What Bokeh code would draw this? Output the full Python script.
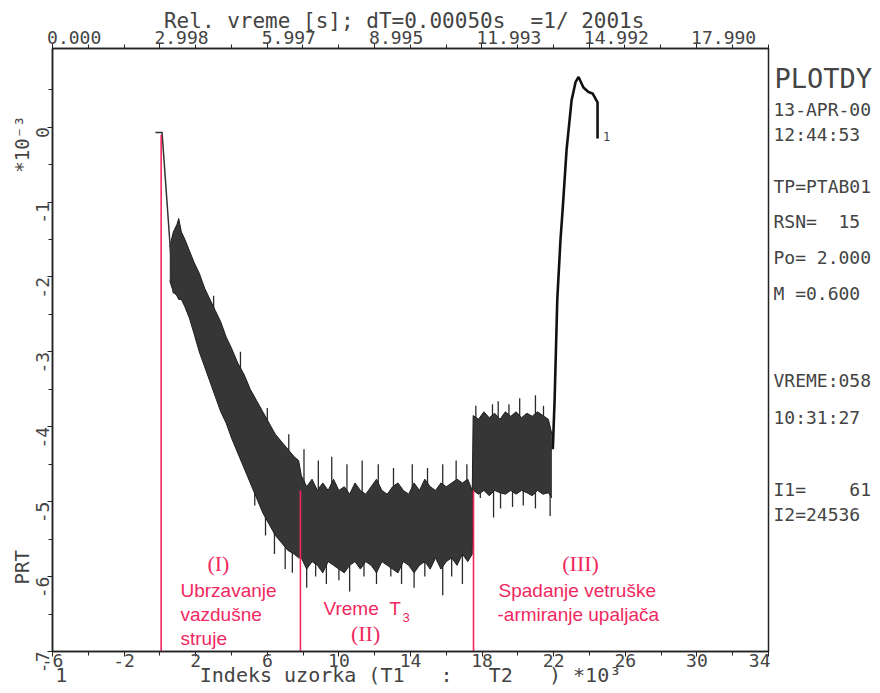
import math
from bokeh.plotting import figure
from bokeh.layouts import row
from bokeh.models import Range1d, LinearAxis, FixedTicker
from bokeh.core.properties import value
from bokeh.embed import file_html
from bokeh.resources import INLINE

# ---------------- data (x: sample index * 10^3, y: PRT * 10^-3) ----------------
lead_x = [-0.25, 0.12, 0.76]
lead_y = [-0.07, -0.07, -2.22]

# noisy band, phase I (acceleration of air stream)
acc_x = [0.55, 0.75, 0.95, 1.05, 1.2, 1.4, 1.65, 1.9, 2.2, 2.5, 2.8, 3.1, 3.4, 3.7,
         4.0, 4.35, 4.7, 5.05, 5.4, 5.75, 6.1, 6.45, 6.8, 7.15, 7.5, 7.75]
acc_hi = [-1.6, -1.4, -1.3, -1.22, -1.4, -1.5, -1.65, -1.8, -1.95, -2.15, -2.3, -2.45, -2.6, -2.8,
          -2.95, -3.15, -3.3, -3.5, -3.65, -3.8, -3.95, -4.1, -4.2, -4.3, -4.4, -4.45]
acc_lo = [-2.05, -2.2, -2.25, -2.3, -2.3, -2.4, -2.55, -2.75, -3.0, -3.2, -3.4, -3.6, -3.8, -3.95,
          -4.15, -4.35, -4.55, -4.75, -4.95, -5.15, -5.3, -5.45, -5.55, -5.65, -5.7, -5.75]

# noisy band, phase II (time T3)
t3_x = [7.9, 8.2, 8.5, 8.8, 9.1, 9.4, 9.7, 10.0, 10.3, 10.6, 10.9, 11.2, 11.5, 11.8, 12.1, 12.4,
        12.7, 13.0, 13.3, 13.6, 13.9, 14.2, 14.5, 14.8, 15.1, 15.4, 15.7, 16.0, 16.3, 16.6, 16.9,
        17.2, 17.45]
t3_hi = [-4.65, -4.8, -4.7, -4.85, -4.75, -4.85, -4.7, -4.85, -4.8, -4.9, -4.75, -4.85, -4.9, -4.8,
         -4.7, -4.85, -4.9, -4.8, -4.75, -4.85, -4.9, -4.75, -4.85, -4.7, -4.8, -4.85, -4.75, -4.8,
         -4.75, -4.7, -4.75, -4.7, -4.85]
t3_lo = [-5.75, -5.9, -5.8, -5.85, -5.95, -5.8, -5.85, -5.9, -5.95, -5.85, -5.8, -5.9, -5.8, -5.85,
         -5.95, -5.8, -5.85, -5.9, -5.95, -5.8, -5.85, -5.95, -5.85, -5.8, -5.9, -5.75, -5.9, -5.8,
         -5.75, -5.85, -5.7, -5.8, -5.7]

# noisy band, phase III (release of the vane / arming)
arm_x = [17.5, 17.8, 18.1, 18.4, 18.7, 19.0, 19.3, 19.6, 19.9, 20.2, 20.5, 20.8, 21.1, 21.4, 21.7, 21.9]
arm_hi = [-3.85, -3.9, -3.8, -3.88, -3.82, -3.9, -3.8, -3.86, -3.8, -3.88, -3.82, -3.86, -3.8,
          -3.85, -3.9, -4.1]
arm_lo = [-4.85, -4.9, -4.85, -4.92, -4.85, -4.88, -4.9, -4.85, -4.9, -4.85, -4.88, -4.92, -4.85,
          -4.9, -4.88, -4.95]

# isolated noise peaks (upward / downward)
up_x = [3.0, 4.5, 6.0, 7.2, 8.05, 8.85, 9.6, 10.45, 11.3, 12.2, 13.05, 14.1, 14.95, 15.8, 16.55,
        17.15, 17.65, 18.58, 18.9, 19.5, 20.1, 20.98, 21.43]
up_tip = [-2.25, -3.0, -3.75, -4.1, -4.3, -4.45, -4.4, -4.5, -4.45, -4.5, -4.55, -4.5, -4.55, -4.5,
          -4.45, -4.5, -3.72, -3.7, -3.66, -3.7, -3.62, -3.58, -3.72]
up_base = [-2.5, -3.3, -4.0, -4.4, -4.9, -4.9, -4.9, -4.9, -4.9, -4.9, -4.9, -4.9, -4.9, -4.9, -4.9,
           -4.9, -3.95, -3.95, -3.95, -3.95, -3.95, -3.95, -3.95]
down_x = [5.3, 5.9, 6.4, 7.0, 7.4, 8.2, 8.7, 9.3, 10.0, 10.6, 11.4, 12.1, 12.9, 13.5, 14.2, 14.8,
          15.8, 16.3, 16.9, 17.9, 18.64, 19.03, 19.7, 20.3, 20.98, 21.8]
down_tip = [-5.05, -5.45, -5.7, -5.9, -5.95, -6.15, -6.0, -6.1, -6.05, -6.2, -6.0, -6.1, -6.0, -6.1,
            -6.15, -6.0, -6.25, -6.0, -6.1, -4.95, -5.21, -5.09, -5.07, -5.05, -5.09, -5.19]
down_base = [-4.8, -5.1, -5.3, -5.5, -5.6, -5.7, -5.7, -5.7, -5.7, -5.7, -5.7, -5.7, -5.7, -5.7,
             -5.7, -5.7, -5.7, -5.7, -5.7, -4.8, -4.8, -4.8, -4.8, -4.8, -4.8, -4.8]

# final rise
rise_x = [21.95, 22.05, 22.2, 22.38, 22.5, 22.72, 23.0, 23.22, 23.39, 23.66, 23.94, 24.17, 24.45, 24.45]
rise_y = [-4.3, -3.65, -2.3, -1.5, -1.1, -0.3, 0.36, 0.6, 0.67, 0.53, 0.47, 0.45, 0.33, -0.15]

# phase boundary markers
marker_x = [0.07, 7.85, 17.52]
marker_top = [-0.1, -4.85, -4.85]

x_ticks = [-6, -2, 2, 6, 10, 14, 18, 22, 26, 30, 34]
x_minor = [-4, 0, 4, 8, 12, 16, 20, 24, 28, 32]
y_ticks = [0, -1, -2, -3, -4, -5, -6, -7]
y_minor = [0.5, -0.5, -1.5, -2.5, -3.5, -4.5, -5.5, -6.5]
time_ticks = [0.0, 2.998, 5.997, 8.995, 11.993, 14.992, 17.990]
time_labels = ["0.000", "2.998", "5.997", "8.995", "11.993", "14.992", "17.990"]

info_lines = ["13-APR-00", "12:44:53", "TP=PTAB01", "RSN=\u00a0 15", "Po=\u00a02.000",
              "M\u00a0=0.600", "VREME:058", "10:31:27", "I1=\u00a0\u00a0\u00a0\u00a061", "I2=24536"]
info_y = [109, 134, 186, 221, 257, 293, 380, 417, 489, 514]

# ---------------- styling ----------------
PINK = "#f0285f"
INK = "#444444"
AXC = "#222222"
MONO = "DejaVu Sans Mono"
SANS = "Liberation Sans"
SERIF = "Liberation Serif"
NB = "\u00a0"

p = figure(width=770, height=693, x_range=Range1d(-6, 34), y_range=Range1d(-7, 1.05),
           output_backend="svg", toolbar_location=None,
           min_border_left=52, min_border_right=2, min_border_top=48, min_border_bottom=42)
p.grid.visible = False
p.outline_line_color = AXC
p.outline_line_width = 1.5
p.background_fill_color = "white"
p.border_fill_color = "white"


def style_axis(ax, size="18px"):
    ax.axis_line_color = AXC
    ax.axis_line_width = 1.5
    ax.major_tick_line_color = AXC
    ax.minor_tick_line_color = AXC
    ax.major_tick_in = 0
    ax.major_tick_out = 5
    ax.minor_tick_in = 0
    ax.minor_tick_out = 4
    ax.major_label_text_font = MONO
    ax.major_label_text_font_size = size
    ax.major_label_text_color = INK
    ax.axis_label_text_font = MONO
    ax.axis_label_text_font_style = "normal"
    ax.axis_label_text_color = INK


xa = p.xaxis[0]
xa.ticker = FixedTicker(ticks=x_ticks, minor_ticks=x_minor)
xa.major_label_overrides = {t: str(t) for t in x_ticks}
style_axis(xa)
xa.major_label_standoff = -3
xa.axis_label = ("1" + NB * 11 + "Indeks" + NB + "uzorka" + NB + "(T1" + NB * 3 + ":" + NB * 3 +
                 "T2" + NB * 3 + ")" + NB + "*10\u00b3" + NB * 12)
xa.axis_label_text_font_size = "20px"
xa.axis_label_standoff = -7

ya = p.yaxis[0]
ya.ticker = FixedTicker(ticks=y_ticks, minor_ticks=y_minor)
ya.major_label_overrides = {t: str(t) for t in y_ticks}
style_axis(ya)
ya.major_label_orientation = math.pi / 2
ya.major_label_standoff = 5
ya.axis_label = "PRT" + NB * 33 + "*10\u207b\u00b3"
ya.axis_label_text_font_size = "19px"
ya.axis_label_standoff = -6

p.extra_x_ranges = {"time": Range1d(0, 20.0)}
top = LinearAxis(x_range_name="time",
                 ticker=FixedTicker(ticks=time_ticks,
                                    minor_ticks=[t + d for t in time_ticks for d in (0.9993, 1.9987)]),
                 major_label_overrides={t: NB * (len(s) - 1) + s for t, s in zip(time_ticks, time_labels)})
style_axis(top)
top.major_label_standoff = -4
top.axis_label = ("Rel." + NB + "vreme" + NB + "[s];" + NB + "dT=0.00050s" + NB * 2 + "=1/" + NB +
                  "2001s" + NB)
top.axis_label_text_font_size = "21px"
top.axis_label_standoff = -9
p.add_layout(top, "above")

# ---------------- marks ----------------
band_x = acc_x + t3_x + arm_x
band_hi = acc_hi + t3_hi + arm_hi
band_lo = acc_lo + t3_lo + arm_lo
p.segment(x0=up_x, y0=up_base, x1=up_x, y1=up_tip, line_color="#2a2a2a", line_width=1.3)
p.segment(x0=down_x, y0=down_base, x1=down_x, y1=down_tip, line_color="#2a2a2a", line_width=1.3)
p.varea(x=band_x, y1=band_lo, y2=band_hi, fill_color="#363636")
p.line(band_x, band_hi, line_color="#1e1e1e", line_width=1)
p.line(band_x, band_lo, line_color="#1e1e1e", line_width=1)
p.line(lead_x, lead_y, line_color="#333333", line_width=1.5)
p.line(rise_x, rise_y, line_color="#111111", line_width=2.6)
p.segment(x0=marker_x, y0=[-7] * len(marker_x), x1=marker_x, y1=marker_top,
          line_color=PINK, line_width=1.6)


def txt(fig, x, y, text, size, color=INK, font=MONO, align="left"):
    fig.text(x=[x], y=[y], text=[text], text_font=value(font), text_font_size=size,
             text_color=color, text_align=align, text_baseline="middle")


txt(p, 24.75, -0.12, "1", "12px")
txt(p, 3.27, -5.82, "(I)", "22px", PINK, SERIF, "center")
txt(p, 1.15, -6.18, "Ubrzavanje", "19px", PINK, SANS)
txt(p, 1.15, -6.50, "vazdušne", "19px", PINK, SANS)
txt(p, 1.15, -6.82, "struje", "19px", PINK, SANS)
txt(p, 9.14, -6.43, "Vreme" + NB * 2 + "T", "19px", PINK, SANS)
txt(p, 13.55, -6.54, "3", "13px", PINK, SANS)
txt(p, 11.49, -6.76, "(II)", "22px", PINK, SERIF, "center")
txt(p, 23.5, -5.82, "(III)", "22px", PINK, SERIF, "center")
txt(p, 18.92, -6.19, "Spadanje vetruške", "19px", PINK, SANS)
txt(p, 18.86, -6.50, "-armiranje upaljača", "19px", PINK, SANS)

# ---------------- right-hand info block (frame aligned with the main frame: 48..651 px) ----------------
q = figure(width=110, height=693, x_range=Range1d(0, 110), y_range=Range1d(651, 48),
           output_backend="svg", toolbar_location=None, x_axis_type=None, y_axis_type=None,
           min_border_left=0, min_border_right=0, min_border_top=0, min_border_bottom=0)
q.grid.visible = False
q.outline_line_color = None
q.background_fill_color = "white"
q.border_fill_color = "white"
txt(q, 4, 78, "PLOTDY", "27px")
q.text(x=[3] * len(info_lines), y=info_y, text=info_lines, text_font=value(MONO),
       text_font_size="18px", text_color=INK, text_align="left", text_baseline="middle")

open("out.html", "w").write(file_html(row(p, q), INLINE))
